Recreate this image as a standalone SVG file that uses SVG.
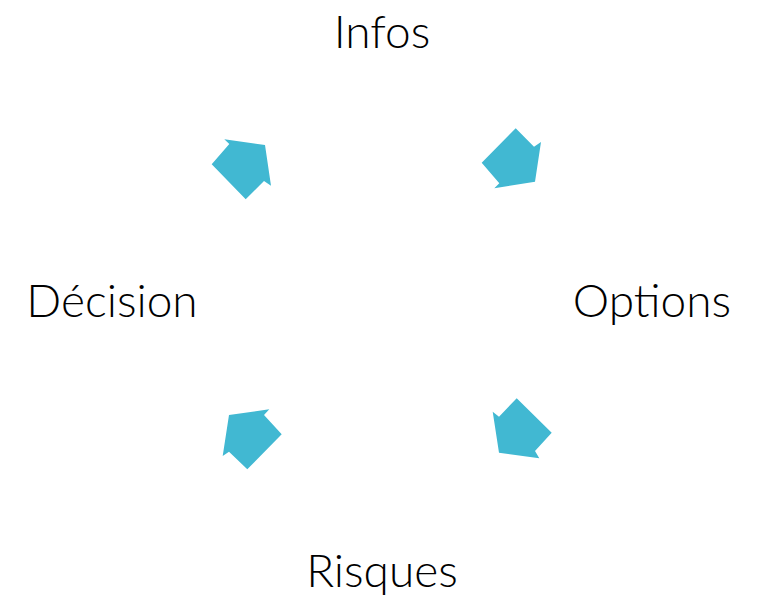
<svg xmlns="http://www.w3.org/2000/svg" width="763" height="598" viewBox="0 0 763 598">
<style>
.lbl{font-family:Lato,"Open Sans",sans-serif;font-weight:300;font-size:46px;fill:#000;text-anchor:middle}
.arr{fill:#41B8D2}
</style>
<rect width="763" height="598" fill="#fff"/>
<g id="connectors">
<polygon class="arr" points="481.7,162.7 515.7,128.3 534,146.7 541,142 535,181.7 494.3,188.3 499.3,183.3"/>
<polygon class="arr" points="516.7,398.3 551.7,432.7 535,451 539.3,458.3 499,452.7 492.7,411.7 499,416.7"/>
<polygon class="arr" points="281.7,434.3 247.3,469.3 229,451.7 222.7,456 229,415 269.3,409.3 264,415"/>
<polygon class="arr" points="211.7,164.3 245.7,199.3 264,181 271,185.7 265,145 224.3,139.3 229.3,144"/>
</g>
<g id="infos"><text class="lbl" x="382" y="48">Infos</text></g>
<g id="options"><text class="lbl" x="652" y="317">Options</text></g>
<g id="risques"><text class="lbl" x="382" y="587">Risques</text></g>
<g id="decision"><text class="lbl" x="112" y="317">Décision</text></g>
</svg>
